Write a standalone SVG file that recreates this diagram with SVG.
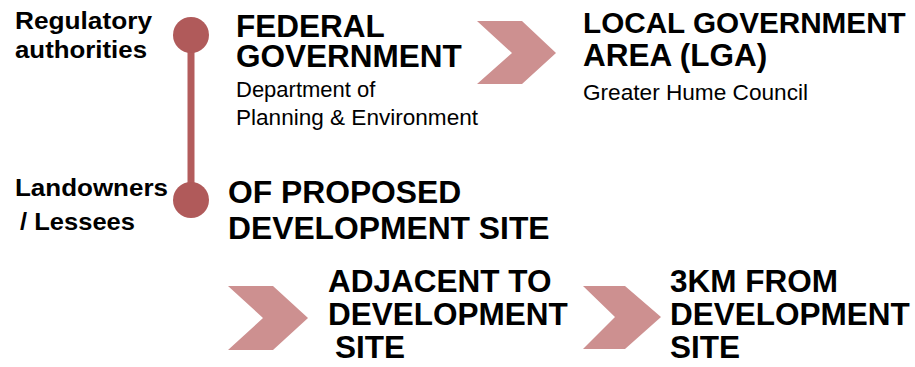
<svg xmlns="http://www.w3.org/2000/svg" width="915" height="367" viewBox="0 0 915 367">
<style>
text{font-family:"Liberation Sans",Arial,sans-serif;fill:#000}
.lbl{font-size:24px;font-weight:bold}
.h{font-size:31.5px;font-weight:bold}
.s{font-size:22px}
.chev{fill:#cd9090}
.dot{fill:#b05a5a}
</style>
<rect width="915" height="367" fill="#fff"/>
<g id="connectors">
<line x1="191" y1="35" x2="191" y2="200" stroke="#b35c5c" stroke-width="7"/>
<polygon class="chev" points="477,21 522,21 556,53 522,84 477,84 512,53"/>
<polygon class="chev" points="228,286 273,286 308,318 273,350 228,350 263,318"/>
<polygon class="chev" points="583,286 625,286 661,317 625,349 583,349 615,317"/>
</g>
<g id="regulatory">
<circle class="dot" cx="191" cy="35" r="18"/>
<text class="lbl" x="15" y="29" textLength="137" lengthAdjust="spacingAndGlyphs">Regulatory</text>
<text class="lbl" x="15" y="58" textLength="132" lengthAdjust="spacingAndGlyphs">authorities</text>
</g>
<g id="landowners">
<circle class="dot" cx="191" cy="200" r="18"/>
<text class="lbl" x="15" y="196" textLength="153" lengthAdjust="spacingAndGlyphs">Landowners</text>
<text class="lbl" x="20" y="230" textLength="115" lengthAdjust="spacingAndGlyphs">/ Lessees</text>
</g>
<g id="federal">
<text class="h" x="236" y="37">FEDERAL</text>
<text class="h" x="236" y="67">GOVERNMENT</text>
<text class="s" x="236" y="97">Department of</text>
<text class="s" x="236" y="125" textLength="242" lengthAdjust="spacingAndGlyphs">Planning &amp; Environment</text>
</g>
<g id="lga">
<text class="h" x="583" y="33" style="font-size:29.7px">LOCAL GOVERNMENT</text>
<text class="h" x="583" y="66">AREA (LGA)</text>
<text class="s" x="583" y="100" textLength="225" lengthAdjust="spacingAndGlyphs">Greater Hume Council</text>
</g>
<g id="proposed">
<text class="h" x="228" y="203" style="font-size:31.8px">OF PROPOSED</text>
<text class="h" x="228" y="239" style="font-size:31.8px">DEVELOPMENT SITE</text>
</g>
<g id="adjacent">
<text class="h" x="328" y="292">ADJACENT TO</text>
<text class="h" x="328" y="325">DEVELOPMENT</text>
<text class="h" x="335" y="358">SITE</text>
</g>
<g id="threekm">
<text class="h" x="670" y="292">3KM FROM</text>
<text class="h" x="670" y="325">DEVELOPMENT</text>
<text class="h" x="670" y="358">SITE</text>
</g>
</svg>
